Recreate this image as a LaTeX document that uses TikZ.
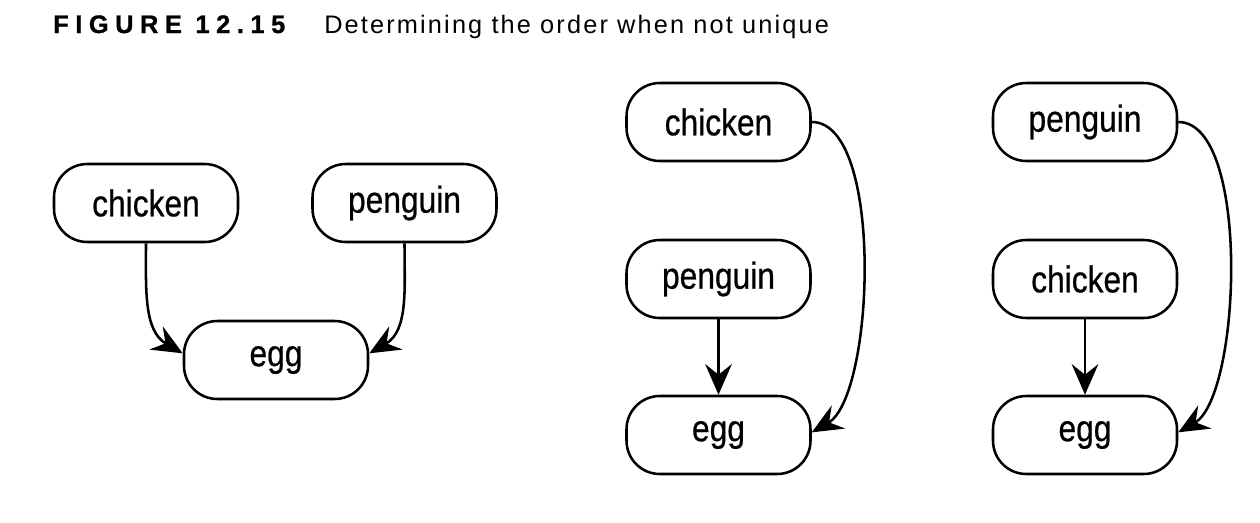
\documentclass[tikz,border=0pt]{standalone}
\usepackage{fontspec}
\setmainfont{Liberation Sans}
\newfontface\figface{Liberation Sans Bold}[LetterSpace=26, FakeBold=1]
\newfontfamily\capfont{Liberation Sans}[LetterSpace=8.5]
\newfontfamily\nodefont{Liberation Sans}[FakeStretch=0.85, FakeBold=0.6]
\usetikzlibrary{arrows.meta}

\tikzset{
  box/.style={draw, line width=1.9pt, rounded corners=25pt,
    minimum width=138pt, minimum height=58.5pt, inner sep=0pt,
    font=\nodefont\fontsize{28}{32}\selectfont},
  arr/.style={line width=1.9pt, -{Stealth[length=23pt,width=20pt,inset=8pt]}}
}

\begin{document}
\begin{tikzpicture}[x=0.75pt, y=0.75pt]
\useasboundingbox (0,0) rectangle (1260,-522);

% caption
\node[anchor=base west, inner sep=0pt] (figno) at (53,-33)
  {\fontsize{19}{22}\selectfont\figface FIGURE 12.15};
\node[anchor=base west, inner sep=0pt] (figcap) at (324,-33)
  {\fontsize{19}{22}\selectfont\capfont Determining the order when not unique};

% First graph: the two tasks both before egg
\node[box] (chickA) at (146,-203) {chicken};
\node[box] (pengA) at (404.5,-203) {penguin};
\node[box] (eggA) at (276,-360) {egg};
\draw[arr] (chickA.south) to[out=-90, in=150] ([yshift=5pt]eggA.west);
\draw[arr] (pengA.south) to[out=-90, in=30] ([yshift=5pt]eggA.east);

% Second graph: chicken, penguin, egg
\node[box] (chickB) at (718.5,-122) {chicken};
\node[box] (pengB) at (718.5,-279) {penguin};
\node[box] (eggB) at (718.5,-435) {egg};
\draw[arr] (pengB.south) -- (eggB.north);
\draw[arr] (chickB.east) to[out=0, in=30, looseness=0.6] ([yshift=2pt]eggB.east);

% Third graph: penguin, chicken, egg
\node[box] (pengC) at (1085,-122) {penguin};
\node[box] (chickC) at (1085,-279) {chicken};
\node[box] (eggC) at (1085,-435) {egg};
\draw[arr] (chickC.south) -- (eggC.north);
\draw[arr] (pengC.east) to[out=0, in=30, looseness=0.6] ([yshift=2pt]eggC.east);

\end{tikzpicture}
\end{document}
